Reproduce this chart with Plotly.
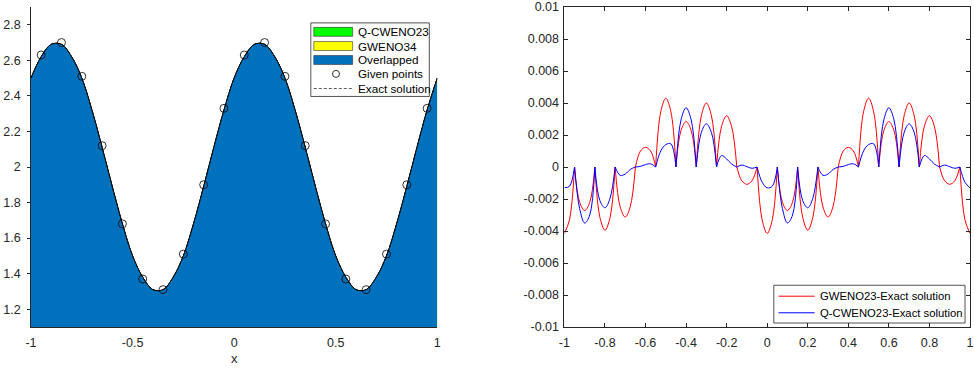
import plotly.graph_objects as go

# ---------------------------------------------------------------- data ----
# Exact solution sampled on a 0.05 grid (left panel)
x_exact = [-1.0, -0.95, -0.9, -0.85, -0.8, -0.75, -0.7, -0.65, -0.6, -0.55,
           -0.5, -0.45, -0.4, -0.35, -0.3, -0.25, -0.2, -0.15, -0.1, -0.05,
           0.0, 0.05, 0.1, 0.15, 0.2, 0.25, 0.3, 0.35, 0.4, 0.45,
           0.5, 0.55, 0.6, 0.65, 0.7, 0.75, 0.8, 0.85, 0.9, 0.95, 1.0]
u_exact = [2.50, 2.62, 2.69, 2.69, 2.62, 2.50, 2.32, 2.11, 1.89, 1.68,
           1.50, 1.38, 1.31, 1.31, 1.38, 1.50, 1.68, 1.89, 2.11, 2.32,
           2.50, 2.62, 2.69, 2.69, 2.62, 2.50, 2.32, 2.11, 1.89, 1.68,
           1.50, 1.38, 1.31, 1.31, 1.38, 1.50, 1.68, 1.89, 2.11, 2.32, 2.50]

# Reconstructions (coincide with the exact profile at this scale)
u_qcweno23 = list(u_exact)
u_gweno34 = list(u_exact)
u_overlap = list(u_exact)

# Given point values at the cell centres
x_given = [-0.95, -0.85, -0.75, -0.65, -0.55, -0.45, -0.35, -0.25, -0.15, -0.05,
           0.05, 0.15, 0.25, 0.35, 0.45, 0.55, 0.65, 0.75, 0.85, 0.95]
u_given = [2.63, 2.70, 2.51, 2.12, 1.68, 1.37, 1.31, 1.51, 1.90, 2.33,
           2.63, 2.70, 2.51, 2.12, 1.68, 1.37, 1.31, 1.51, 1.90, 2.33]

# Pointwise errors on a 0.025 grid (right panel), in units of 1e-3
x_err = [-1.0, -0.975, -0.95, -0.925, -0.9, -0.875, -0.85, -0.825, -0.8, -0.775,
         -0.75, -0.725, -0.7, -0.675, -0.65, -0.625, -0.6, -0.575, -0.55, -0.525,
         -0.5, -0.475, -0.45, -0.425, -0.4, -0.375, -0.35, -0.325, -0.3, -0.275,
         -0.25, -0.225, -0.2, -0.175, -0.15, -0.125, -0.1, -0.075, -0.05, -0.025,
         0.0, 0.025, 0.05, 0.075, 0.1, 0.125, 0.15, 0.175, 0.2, 0.225,
         0.25, 0.275, 0.3, 0.325, 0.35, 0.375, 0.4, 0.425, 0.45, 0.475,
         0.5, 0.525, 0.55, 0.575, 0.6, 0.625, 0.65, 0.675, 0.7, 0.725,
         0.75, 0.775, 0.8, 0.825, 0.85, 0.875, 0.9, 0.925, 0.95, 0.975, 1.0]
err_gweno23 = [-4.15, -3.3, 0.0, -2.2, -2.72, -2.2, 0.0, -3.15, -3.95, -3.15,
               0.0, -2.5, -3.13, -2.45, 0.0, 1.0, 1.23, 1.0, 0.0, 3.45,
               4.3, 3.45, 0.0, 2.28, 2.84, 2.28, 0.0, 3.2, 4.0, 3.2,
               0.0, 2.55, 3.2, 2.5, 0.0, -0.86, -1.08, -0.86, 0.0, -3.3,
               -4.15, -3.3, 0.0, -2.2, -2.72, -2.2, 0.0, -3.15, -3.95, -3.15,
               0.0, -2.5, -3.13, -2.45, 0.0, 1.0, 1.23, 1.0, 0.0, 3.45,
               4.3, 3.45, 0.0, 2.28, 2.84, 2.28, 0.0, 3.2, 4.0, 3.2,
               0.0, 2.55, 3.2, 2.5, 0.0, -0.86, -1.08, -0.86, 0.0, -3.3, -4.15]
err_qcweno23 = [-1.3, -1.2, 0.0, -2.6, -3.5, -3.0, 0.0, -2.1, -2.55, -1.95,
                0.0, -0.52, -0.44, -0.15, 0.0, 0.04, 0.15, 0.2, 0.0, 1.0,
                1.4, 1.45, 0.0, 2.95, 3.7, 2.95, 0.0, 2.15, 2.7, 2.15,
                0.0, 0.72, 0.5, 0.18, 0.0, 0.12, 0.02, -0.08, 0.0, -0.95,
                -1.3, -1.2, 0.0, -2.6, -3.5, -3.0, 0.0, -2.1, -2.55, -1.95,
                0.0, -0.52, -0.44, -0.15, 0.0, 0.04, 0.15, 0.2, 0.0, 1.0,
                1.4, 1.45, 0.0, 2.95, 3.7, 2.95, 0.0, 2.15, 2.7, 2.15,
                0.0, 0.72, 0.5, 0.18, 0.0, 0.12, 0.02, -0.08, 0.0, -0.95, -1.3]
ERR_UNIT = 1e-3

left_xticks = [-1, -0.5, 0, 0.5, 1]
left_xtext = ["-1", "-0.5", "0", "0.5", "1"]
left_yticks = [1.2, 1.4, 1.6, 1.8, 2.0, 2.2, 2.4, 2.6, 2.8]
left_ytext = ["1.2", "1.4", "1.6", "1.8", "2", "2.2", "2.4", "2.6", "2.8"]
right_xticks = [-1, -0.8, -0.6, -0.4, -0.2, 0, 0.2, 0.4, 0.6, 0.8, 1]
right_xtext = ["-1", "-0.8", "-0.6", "-0.4", "-0.2", "0", "0.2", "0.4", "0.6", "0.8", "1"]
right_yticks = [-0.01, -0.008, -0.006, -0.004, -0.002, 0, 0.002, 0.004, 0.006, 0.008, 0.01]
right_ytext = ["-0.01", "-0.008", "-0.006", "-0.004", "-0.002", "0",
               "0.002", "0.004", "0.006", "0.008", "0.01"]

# ------------------------------------------------------------- helpers ----
W, H = 974, 369
ML, MR, MT, MB = 31, 0, 5, 42
PW, PH = W - ML - MR, H - MT - MB
FONT = "Liberation Sans, Arial, sans-serif"
AX = "#262626"


def fx(px):
    return (px - ML) / PW


def fy(py):
    return (H - MB - py) / PH


def split_at_nodes(xs, ys, nodes):
    """Break the error curve at interpolation nodes so each cell is its own arc."""
    node_set = {round(n, 4) for n in nodes}
    ox, oy = [], []
    for i, (x, y) in enumerate(zip(xs, ys)):
        ox.append(x)
        oy.append(y)
        if round(x, 4) in node_set and 0 < i < len(xs) - 1:
            ox += [None, x]
            oy += [None, y]
    return ox, oy


fig = go.Figure()

# --------------------------------------------------------- left panel ----
for vals, col in [(u_qcweno23, "#00FF00"), (u_gweno34, "#FFFF00"), (u_overlap, "#0072BD")]:
    fig.add_trace(go.Scatter(
        x=x_exact, y=vals, mode="lines", fill="tozeroy", fillcolor=col,
        line=dict(color="black", width=0.8, shape="spline"),
        xaxis="x", yaxis="y", showlegend=False, hoverinfo="skip"))

fig.add_trace(go.Scatter(
    x=x_given, y=u_given, mode="markers",
    marker=dict(symbol="circle-open", size=8, color="black", line=dict(width=0.8)),
    xaxis="x", yaxis="y", showlegend=False))

fig.add_trace(go.Scatter(
    x=x_exact, y=u_exact, mode="lines",
    line=dict(color="black", width=0.8, dash="3px,2px", shape="spline"),
    xaxis="x", yaxis="y", showlegend=False))

# -------------------------------------------------------- right panel ----
for errs, col in [(err_gweno23, "#FF0000"), (err_qcweno23, "#0000FF")]:
    sx, sy = split_at_nodes(x_err, [e * ERR_UNIT for e in errs], x_given)
    fig.add_trace(go.Scatter(
        x=sx, y=sy, mode="lines", connectgaps=False,
        line=dict(color=col, width=1, shape="spline", simplify=False),
        xaxis="x2", yaxis="y2", showlegend=False))

# ------------------------------------------------------------- legends ----
shapes = []
annotations = []
LEG_FONT_L = dict(family=FONT, size=11.7, color="black")
LEG_FONT_R = dict(family=FONT, size=11.3, color="black")

# left legend
shapes.append(dict(type="rect", xref="paper", yref="paper",
                   x0=fx(312), x1=fx(431), y0=fy(95), y1=fy(21),
                   line=dict(color=AX, width=0.8), fillcolor="white"))
left_rows = [("Q-CWENO23", 30.0, "#00FF00"), ("GWENO34", 44.3, "#FFFF00"),
             ("Overlapped", 58.3, "#0072BD")]
for label, yc, col in left_rows:
    shapes.append(dict(type="rect", xref="paper", yref="paper",
                       x0=fx(315), x1=fx(354), y0=fy(yc + 4.5), y1=fy(yc - 4.5),
                       line=dict(color="#333333", width=0.6), fillcolor=col))
    annotations.append(dict(text=label, x=fx(357), y=fy(yc), xref="paper", yref="paper",
                            xanchor="left", yanchor="middle", showarrow=False, font=LEG_FONT_L))
shapes.append(dict(type="circle", xref="paper", yref="paper",
                   x0=fx(333.8), x1=fx(340.8), y0=fy(75.8), y1=fy(68.8),
                   line=dict(color="black", width=0.8)))
annotations.append(dict(text="Given points", x=fx(357), y=fy(72.3), xref="paper", yref="paper",
                        xanchor="left", yanchor="middle", showarrow=False, font=LEG_FONT_L))
shapes.append(dict(type="line", xref="paper", yref="paper",
                   x0=fx(315), x1=fx(354), y0=fy(87), y1=fy(87),
                   line=dict(color="#333333", width=0.8, dash="3px,2px")))
annotations.append(dict(text="Exact solution", x=fx(357), y=fy(87), xref="paper", yref="paper",
                        xanchor="left", yanchor="middle", showarrow=False, font=LEG_FONT_L))

# right legend
shapes.append(dict(type="rect", xref="paper", yref="paper",
                   x0=fx(777), x1=fx(969), y0=fy(323), y1=fy(285),
                   line=dict(color=AX, width=0.8), fillcolor="white"))
for label, yc, col in [("GWENO23-Exact solution", 296, "#FF0000"),
                       ("Q-CWENO23-Exact solution", 312.7, "#0000FF")]:
    shapes.append(dict(type="line", xref="paper", yref="paper",
                       x0=fx(781.7), x1=fx(818), y0=fy(yc), y1=fy(yc),
                       line=dict(color=col, width=1)))
    annotations.append(dict(text=label, x=fx(821), y=fy(yc), xref="paper", yref="paper",
                            xanchor="left", yanchor="middle", showarrow=False, font=LEG_FONT_R))

# -------------------------------------------------------------- layout ----
tick_font = dict(family=FONT, size=12.5, color=AX)
common = dict(showgrid=False, zeroline=False, showline=True, linecolor=AX, linewidth=0.8,
              tickfont=tick_font, tickcolor=AX, tickwidth=0.8, ticklabeloverflow="allow")

fig.update_layout(
    width=W, height=H,
    margin=dict(l=ML, r=MR, t=MT, b=MB, pad=0),
    paper_bgcolor="white", plot_bgcolor="white",
    font=dict(family=FONT, color=AX),
    showlegend=False,
    xaxis=dict(domain=[0, fx(439)], range=[-1, 1], anchor="y",
               tickmode="array", tickvals=left_xticks, ticktext=left_xtext,
               ticks="", ticklabelstandoff=4,
               title=dict(text="x", font=dict(family=FONT, size=13, color=AX), standoff=4),
               **common),
    yaxis=dict(domain=[0, 1], range=[1.1, 2.9], anchor="x",
               tickmode="array", tickvals=left_yticks, ticktext=left_ytext,
               ticks="outside", ticklen=3, ticklabelstandoff=4, **common),
    xaxis2=dict(domain=[fx(566.7), 1], range=[-1, 1], anchor="y2",
                tickmode="array", tickvals=right_xticks, ticktext=right_xtext,
                ticks="inside", ticklen=4, mirror="ticks", ticklabelstandoff=4, **common),
    yaxis2=dict(domain=[0, 1], range=[-0.01, 0.01], anchor="x2",
                tickmode="array", tickvals=right_yticks, ticktext=right_ytext,
                ticks="inside", ticklen=4, mirror="ticks", ticklabelstandoff=2, **common),
    shapes=shapes,
    annotations=annotations,
)

fig.write_html("out.html")
